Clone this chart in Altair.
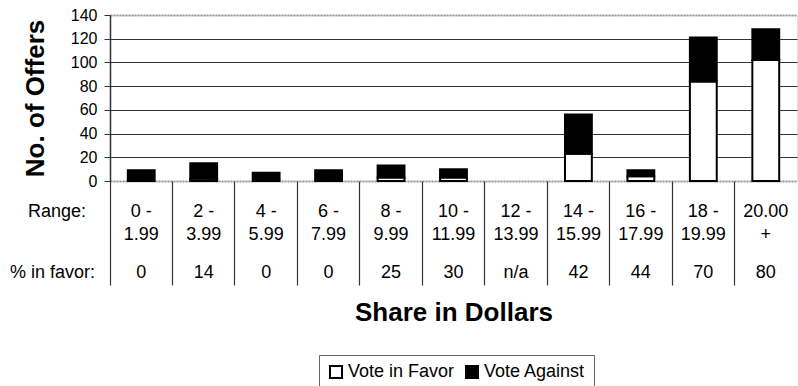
import altair as alt
import pandas as pd

categories = ["0-1.99", "2-3.99", "4-5.99", "6-7.99", "8-9.99", "10-11.99",
              "12-13.99", "14-15.99", "16-17.99", "18-19.99", "20.00+"]
range_top = ["0 -", "2 -", "4 -", "6 -", "8 -", "10 -", "12 -", "14 -", "16 -", "18 -", "20.00"]
range_bot = ["1.99", "3.99", "5.99", "7.99", "9.99", "11.99", "13.99", "15.99", "17.99", "19.99", "+"]
pct_favor = ["0", "14", "0", "0", "25", "30", "n/a", "42", "44", "70", "80"]
vote_favor = [0, 2, 0, 0, 3, 3, 0, 23, 4, 84, 102]
vote_against = [9, 13, 7, 9, 10, 7, 0, 33, 5, 37, 26]
series = ["Vote in Favor", "Vote Against"]

FONT = "Liberation Sans"

rows = []
for i, c in enumerate(categories):
    rows.append({"cat": c, "vote": series[0], "n": vote_favor[i], "ord": 0})
    rows.append({"cat": c, "vote": series[1], "n": vote_against[i], "ord": 1})
bars_df = pd.DataFrame(rows)

table_df = pd.DataFrame({"cat": categories, "top": range_top, "bot": range_bot, "pct": pct_favor})

x_scale = alt.Scale(domain=categories, paddingInner=0, paddingOuter=0)

bars = alt.Chart(bars_df).transform_filter("datum.n > 0").mark_bar(
    width={"band": 0.43}, stroke="black", strokeWidth=2).encode(
    x=alt.X("cat:N", scale=x_scale, sort=categories,
            axis=alt.Axis(labels=False, domain=False, ticks=True, tickColor="#333333",
                          tickSize=104, tickWidth=1.2, bandPosition=0, grid=False,
                          title="Share in Dollars", titleFont=FONT, titleFontSize=26,
                          titleFontWeight="bold", titlePadding=14, titleColor="black")),
    y=alt.Y("n:Q", stack="zero", scale=alt.Scale(domain=[0, 140], nice=False),
            axis=alt.Axis(values=[0, 20, 40, 60, 80, 100, 120, 140], title="No. of Offers",
                          titleFont=FONT, titleFontSize=26, titleFontWeight="bold",
                          titleColor="black", titlePadding=22,
                          labelFont=FONT, labelFontSize=16, labelColor="black", labelPadding=7,
                          tickSize=6, tickColor="#333333", domainColor="#333333", domainWidth=1.5,
                          gridColor={"condition": {"test": "datum.value === 140 || datum.value === 0", "value": "#999999"}, "value": "#333333"},
                          gridWidth={"condition": {"test": "datum.value === 140 || datum.value === 0", "value": 2}, "value": 1},
                          gridDash={"condition": {"test": "datum.value === 140 || datum.value === 0", "value": [2, 1]}, "value": []})),
    fill=alt.Fill("vote:N", scale=alt.Scale(domain=series, range=["white", "black"]),
                  legend=alt.Legend(title=None, orient="none", legendX=209, legendY=340,
                                    direction="horizontal", symbolType="square", symbolSize=144,
                                    symbolStrokeColor="black", symbolStrokeWidth=2,
                                    labelFont=FONT, labelFontSize=18, labelColor="black",
                                    labelOffset=3, columnPadding=7, padding=8,
                                    strokeColor="#666666", fillColor="white")),
    order=alt.Order("ord:Q"),
)

def row_text(field, ypix):
    return alt.Chart(table_df).mark_text(font=FONT, fontSize=18, color="black",
                                         baseline="alphabetic", align="center").encode(
        x=alt.X("cat:N", scale=x_scale, sort=categories),
        y=alt.value(ypix),
        text=f"{field}:N",
    )

t1 = row_text("top", 202)
t2 = row_text("bot", 225)
t3 = row_text("pct", 263)

lab_range = alt.Chart(pd.DataFrame({"t": ["Range:"]})).mark_text(
    font=FONT, fontSize=18, color="black", align="right", baseline="alphabetic").encode(
    x=alt.value(-24), y=alt.value(202), text="t:N")
lab_pct = alt.Chart(pd.DataFrame({"t": ["% in favor:"]})).mark_text(
    font=FONT, fontSize=18, color="black", align="right", baseline="alphabetic").encode(
    x=alt.value(-15), y=alt.value(263), text="t:N")

chart = alt.layer(bars, t1, t2, t3, lab_range, lab_pct).properties(
    width=687, height=166,
    autosize=alt.AutoSizeParams(type="none"),
    padding={"left": 110, "top": 15, "right": 1, "bottom": 205},
).configure_view(strokeWidth=0).configure(background="white")

chart.save("out.html", embed_options={"renderer": "svg", "actions": False})
